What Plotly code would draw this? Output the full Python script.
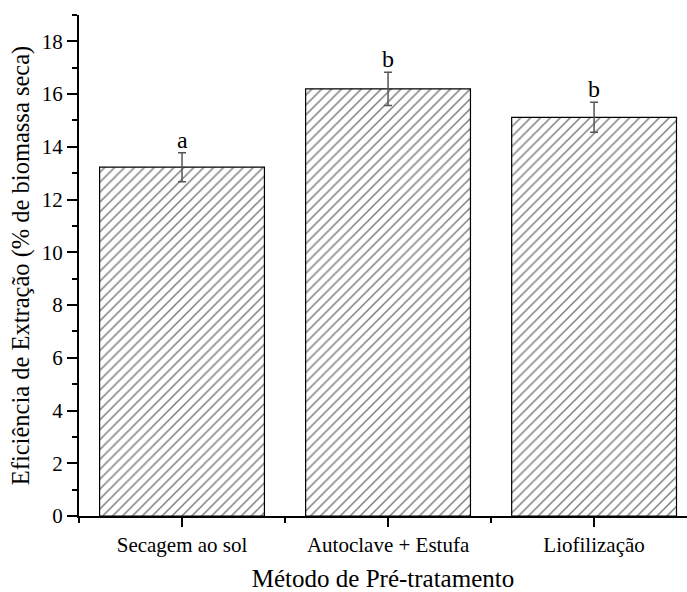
import plotly.graph_objects as go

# Extraction efficiency by pre-treatment method
categories = ["Secagem ao sol", "Autoclave + Estufa", "Liofilização"]
efficiency = [13.23, 16.2, 15.12]
errors = [0.55, 0.63, 0.57]
letters = ["a", "b", "b"]

FONT = "Liberation Serif"
xpos = list(range(len(categories)))

fig = go.Figure()
fig.add_trace(go.Bar(
    x=xpos,
    y=efficiency,
    width=0.8,
    marker=dict(
        color="white",
        line=dict(color="black", width=1.2),
        pattern=dict(shape="/", fgcolor="black", bgcolor="white",
                     size=7, solidity=0.22, fillmode="overlay"),
    ),
    error_y=dict(type="data", array=errors, visible=True,
                 color="#555555", thickness=1.5, width=4),
    showlegend=False,
))

for x, v, e, t in zip(xpos, efficiency, errors, letters):
    fig.add_annotation(x=x, y=v + e, text=t, showarrow=False,
                       yanchor="bottom", yshift=-2,
                       font=dict(family=FONT, size=24, color="black"))

fig.update_layout(
    width=687, height=592,
    margin=dict(l=79, r=0, t=15, b=76),
    plot_bgcolor="white", paper_bgcolor="white",
    font=dict(family=FONT, color="black"),
    bargap=0.2,
)

fig.update_xaxes(
    range=[-0.5, 2.451],
    tickmode="array", tickvals=xpos, ticktext=categories,
    tickfont=dict(family=FONT, size=21, color="black"),
    ticks="outside", ticklen=9, tickwidth=1.5, tickcolor="black",
    minor=dict(tickmode="array", tickvals=[-0.5, 0.5, 1.5, 2.5],
               ticks="outside", ticklen=5, tickwidth=1.5, tickcolor="black"),
    showline=True, linecolor="black", linewidth=2,
    showgrid=False, zeroline=False,
    title=dict(text="Método de Pré-tratamento",
               font=dict(family=FONT, size=25, color="black"), standoff=14),
)

fig.update_yaxes(
    range=[0, 19],
    tickmode="linear", tick0=0, dtick=2,
    tickfont=dict(family=FONT, size=21, color="black"),
    ticks="outside", ticklen=10, tickwidth=1.5, tickcolor="black",
    minor=dict(tick0=1, dtick=2, ticks="outside", ticklen=5,
               tickwidth=1.5, tickcolor="black"),
    showline=True, linecolor="black", linewidth=2,
    showgrid=False, zeroline=False,
    title=dict(text="Eficiência de Extração (% de biomassa seca)",
               font=dict(family=FONT, size=24.5, color="black"), standoff=5),
)

fig.write_html("out.html")
